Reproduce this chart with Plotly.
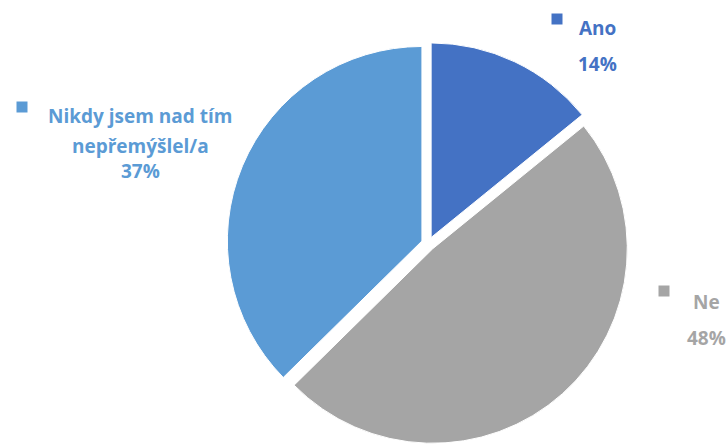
import plotly.graph_objects as go

# Survey answers, clockwise from 12 o'clock
categories = ["Ano", "Ne", "Nikdy jsem nad tím nepřemýšlel/a"]
shares = [14, 48, 37]
colors = ["#4472C4", "#A5A5A5", "#5B9BD5"]
# Category names as they are broken over lines in the labels
label_lines = [["Ano"], ["Ne"], ["Nikdy jsem nad tím", "nepřemýšlel/a"]]

W, H = 727, 445

fig = go.Figure(
    go.Pie(
        labels=categories,
        values=shares,
        sort=False,
        direction="clockwise",
        rotation=0,
        pull=[0.035, 0.035, 0.035],
        marker=dict(colors=colors, line=dict(color="white", width=1)),
        textinfo="none",
        hoverinfo="label+value",
        showlegend=False,
        domain=dict(x=[0.311, 0.867], y=[0.0, 0.905]),
    )
)

FONT = "Open Sans"


def px(x):
    return x / W


def py(y):
    return 1 - y / H


# Placement of each label: text centre x, line centre ys, key square centre
label_pos = [
    (597, [28, 64], (557, 19)),
    (706, [302, 338], (664, 291)),
    (140, [116, 146, 171], (22, 107)),
]

annotations = []
shapes = []
for lines, (tx, ys, (kx, ky)), share, col in zip(label_lines, label_pos, shares, colors):
    texts = lines + [f"{share}%"]
    for t, y in zip(texts, ys):
        annotations.append(
            dict(
                text=f"<b>{t}</b>",
                x=px(tx), y=py(y), xref="paper", yref="paper",
                xanchor="center", yanchor="middle", showarrow=False,
                font=dict(family=FONT, size=19, color=col),
            )
        )
    s = 5.5
    shapes.append(
        dict(
            type="rect", xref="paper", yref="paper",
            x0=px(kx - s), x1=px(kx + s), y0=py(ky + s), y1=py(ky - s),
            fillcolor=col, line=dict(width=0),
        )
    )

fig.update_layout(
    width=W, height=H,
    margin=dict(l=0, r=0, t=0, b=0),
    paper_bgcolor="white",
    plot_bgcolor="white",
    annotations=annotations,
    shapes=shapes,
)

fig.write_html("out.html")
